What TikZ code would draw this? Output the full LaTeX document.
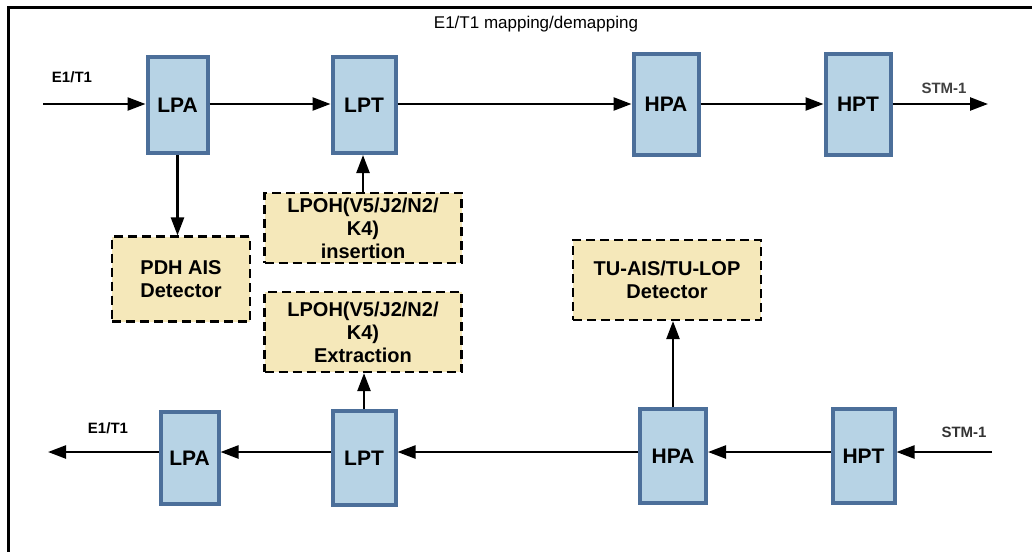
\documentclass[tikz,border=0pt]{standalone}
\usepackage{fontspec}
\setmainfont{Liberation Sans}
\usetikzlibrary{positioning,calc,arrows.meta}

\definecolor{blkfill}{HTML}{B7D3E5}
\definecolor{blkdraw}{HTML}{4C6F9A}
\definecolor{ohfill}{HTML}{F5E8BA}

\begin{document}
\begin{tikzpicture}[x=1pt,y=-1pt,
  blk/.style={draw=blkdraw,fill=blkfill,line width=4pt,minimum width=60pt,minimum height=96pt,
              inner sep=0pt,font=\fontsize{21}{23}\selectfont\bfseries},
  ohbox/.style={draw,fill=ohfill,dashed,dash pattern=on 9pt off 5pt,line width=2.2pt,align=center,
              inner sep=0pt,font=\fontsize{20}{23}\selectfont\bfseries},
  lbl/.style={font=\fontsize{15}{17}\selectfont\bfseries},
  flow/.style={-{Triangle[length=18pt,width=13pt]},line width=2.4pt}]
\useasboundingbox (0,0) rectangle (1032,552);
\draw[line width=3pt] (1032,7) -- (8,7) -- (8,552);

\node[font=\fontsize{17}{19}\selectfont] (title) at (536,24) {E1/T1 mapping/demapping};

% mapping direction
\node[blk] (LPAm) at (177.5,105) {LPA};
\node[blk,minimum width=63pt] (LPTm) at (364,105) {LPT};
\node[blk,minimum width=65pt,minimum height=101pt] (HPAm) at (666,104) {HPA};
\node[blk,minimum width=65pt,minimum height=101pt] (HPTm) at (858,104) {HPT};
\coordinate (inm) at (43,104);
\coordinate (outm) at (988,104);
\node[lbl] (e1in) at (72,77) {E1/T1};
\node[lbl,text=black!75] (stmout) at (944,88) {STM-1};

\node[ohbox,minimum width=138pt,minimum height=85pt] (pdh) at (181,279) {PDH AIS\\Detector};
\node[ohbox,minimum width=197pt,minimum height=70pt] (ins) at (363,228) {LPOH(V5/J2/N2/\\K4)\\insertion};

\draw[flow] (inm) -- (inm -| LPAm.west);
\draw[flow] (LPAm.east |- inm) -- (inm -| LPTm.west);
\draw[flow] (LPTm.east |- inm) -- (inm -| HPAm.west);
\draw[flow] (HPAm.east |- inm) -- (inm -| HPTm.west);
\draw[flow] (HPTm.east |- inm) -- (outm);
\draw[flow] (LPAm.south) -- (LPAm.south |- pdh.north);
\draw[flow] (ins.north) -- (ins.north |- LPTm.south);

% demapping direction
\node[blk,minimum width=58pt,minimum height=92pt] (LPAd) at (189.5,458) {LPA};
\node[blk,minimum width=63pt,minimum height=94pt] (LPTd) at (364,458) {LPT};
\node[blk,minimum width=66pt,minimum height=94pt] (HPAd) at (673,456) {HPA};
\node[blk,minimum width=62pt,minimum height=94pt] (HPTd) at (863.5,456) {HPT};
\coordinate (ind) at (992,452);
\coordinate (outd) at (48,452);
\node[lbl,text=black!80] (stmin) at (964,432) {STM-1};
\node[lbl] (e1out) at (108,428) {E1/T1};

\node[ohbox,minimum width=197pt,minimum height=80pt] (ext) at (363,332) {LPOH(V5/J2/N2/\\K4)\\Extraction};
\node[ohbox,minimum width=188pt,minimum height=80pt] (tu) at (667,280) {TU-AIS/TU-LOP\\Detector};

\draw[flow] (ind) -- (ind -| HPTd.east);
\draw[flow] (HPTd.west |- ind) -- (ind -| HPAd.east);
\draw[flow] (HPAd.west |- ind) -- (ind -| LPTd.east);
\draw[flow] (LPTd.west |- ind) -- (ind -| LPAd.east);
\draw[flow] (LPAd.west |- ind) -- (outd);
\draw[flow] (LPTd.north) -- (LPTd.north |- ext.south);
\draw[flow] (HPAd.north) -- (HPAd.north |- tu.south);

\end{tikzpicture}
\end{document}
